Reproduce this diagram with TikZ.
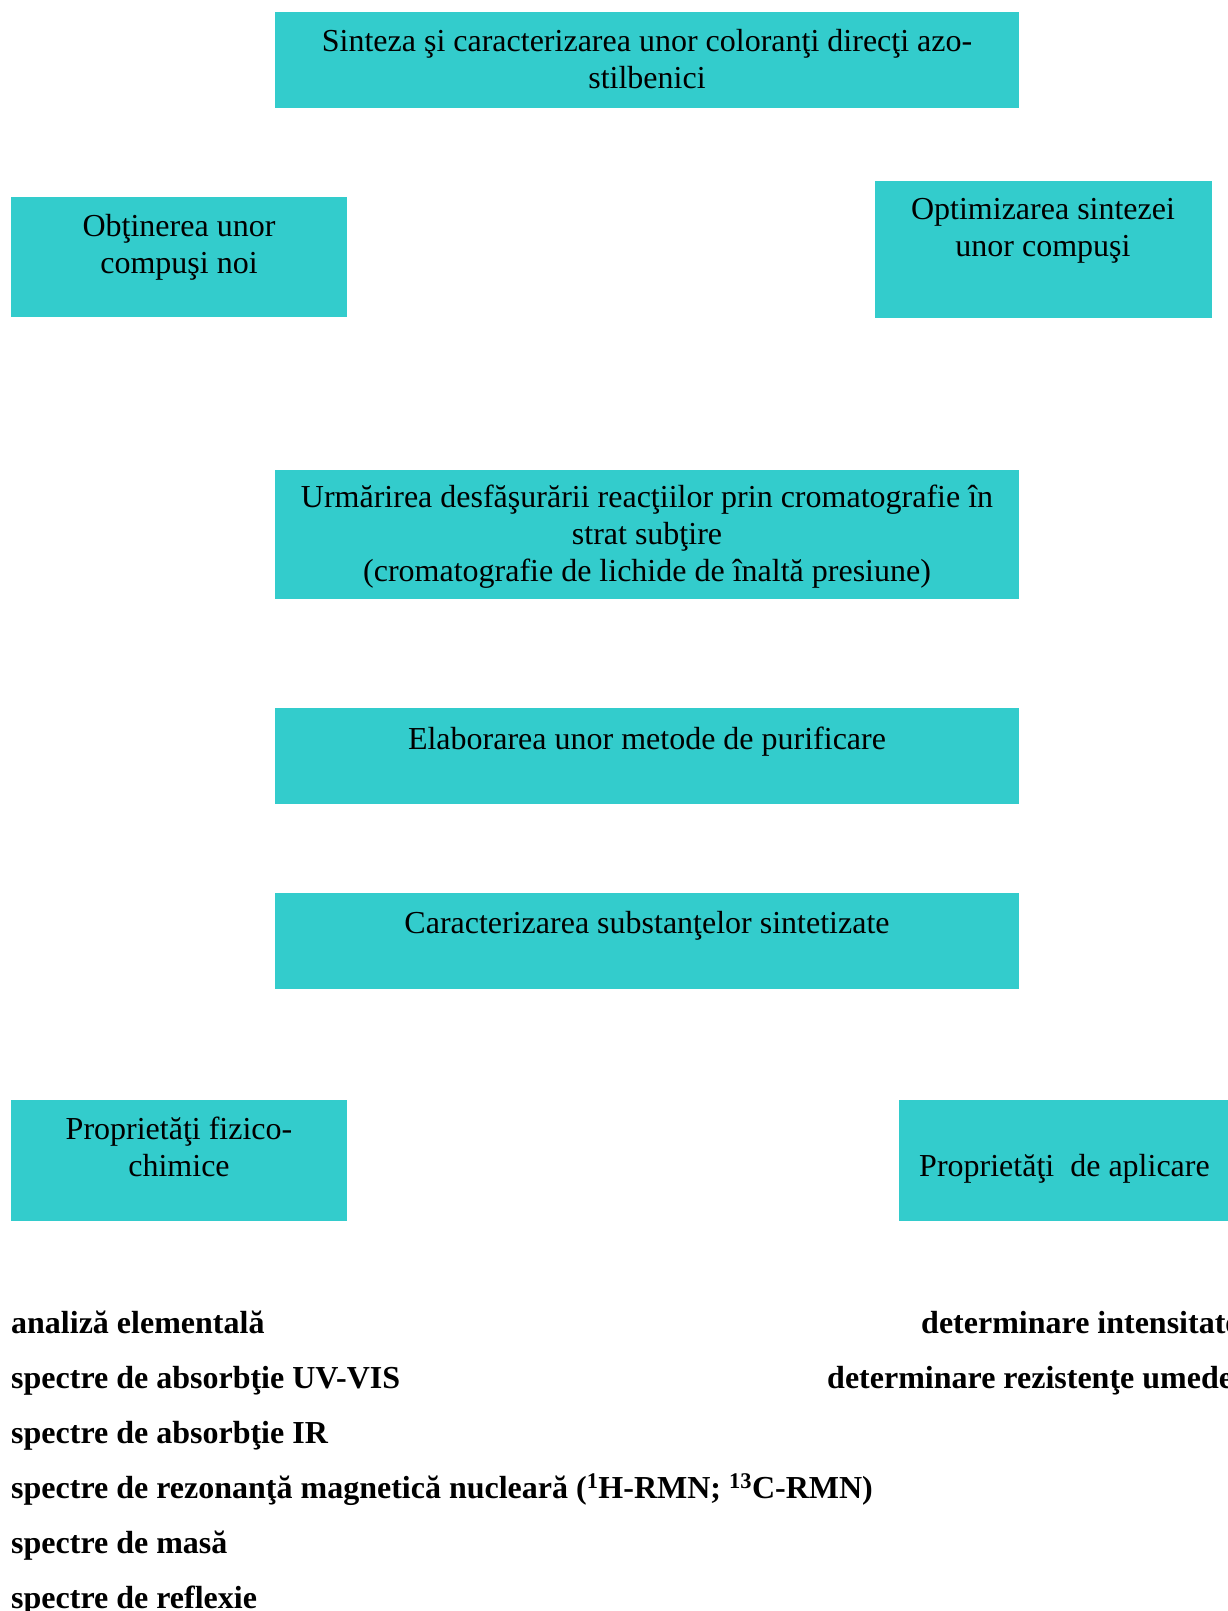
\documentclass[tikz,border=0pt]{standalone}
\usepackage{fontspec}
\setmainfont{Liberation Serif}
\definecolor{turq}{RGB}{51,204,204}
\tikzset{
  box/.style={fill=turq, draw=none, anchor=north west, inner sep=0pt},
  txt/.style={anchor=base, inner sep=0pt, font=\fontsize{32}{37}\selectfont},
  btxt/.style={anchor=base west, inner sep=0pt, font=\fontsize{32}{37}\selectfont\bfseries},
}
\begin{document}
\begin{tikzpicture}[x=1pt,y=-1pt]
\useasboundingbox (0,0) rectangle (1228,1611);
\clip (0,0) rectangle (1228,1611);
% boxes
\node[box, minimum width=744pt, minimum height=96pt] (top) at (275,12) {};
\node[box, minimum width=336pt, minimum height=120pt] (obt) at (11,197) {};
\node[box, minimum width=337pt, minimum height=137pt] (opt) at (875,181) {};
\node[box, minimum width=744pt, minimum height=129pt] (urm) at (275,470) {};
\node[box, minimum width=744pt, minimum height=96pt] (ela) at (275,708) {};
\node[box, minimum width=744pt, minimum height=96pt] (car) at (275,893) {};
\node[box, minimum width=336pt, minimum height=121pt] (fiz) at (11,1100) {};
\node[box, minimum width=337pt, minimum height=121pt] (apl) at (899,1100) {};
% box texts
\node[txt] (t1a) at (647,51.5) {Sinteza şi caracterizarea unor coloranţi direcţi azo-};
\node[txt] (t1b) at (647,88.5) {stilbenici};
\node[txt] (t2a) at (179,236.5) {Obţinerea unor};
\node[txt] (t2b) at (179,273.5) {compuşi noi};
\node[txt] (t3a) at (1043,219.5) {Optimizarea sintezei};
\node[txt] (t3b) at (1043,256.5) {unor compuşi};
\node[txt] (t4a) at (647,507.5) {Urmărirea desfăşurării reacţiilor prin cromatografie în};
\node[txt] (t4b) at (647,544.5) {strat subţire};
\node[txt] (t4c) at (647,581.5) {(cromatografie de lichide de înaltă presiune)};
\node[txt] (t5) at (647,749.5) {Elaborarea unor metode de purificare};
\node[txt] (t6) at (647,933.5) {Caracterizarea substanţelor sintetizate};
\node[txt] (t7a) at (179,1139.5) {Proprietăţi fizico-};
\node[txt] (t7b) at (179,1176.5) {chimice};
\node[txt, anchor=base west] (t8) at (919,1176.5) {Proprietăţi\ \ de aplicare};
% bold lists
\node[btxt] (l1) at (11,1333) {analiză elementală};
\node[btxt] (l2) at (11,1388) {spectre de absorbţie UV-VIS};
\node[btxt] (l3) at (11,1443) {spectre de absorbţie IR};
\node[btxt] (l4) at (11,1498) {spectre de rezonanţă magnetică nucleară (\textsuperscript{1}H-RMN; \textsuperscript{13}C-RMN)};
\node[btxt] (l5) at (11,1553) {spectre de masă};
\node[btxt] (l6) at (11,1608) {spectre de reflexie};
\node[btxt] (r1) at (921,1333) {determinare intensitate};
\node[btxt] (r2) at (827,1388) {determinare rezistenţe umede};
\end{tikzpicture}
\end{document}
